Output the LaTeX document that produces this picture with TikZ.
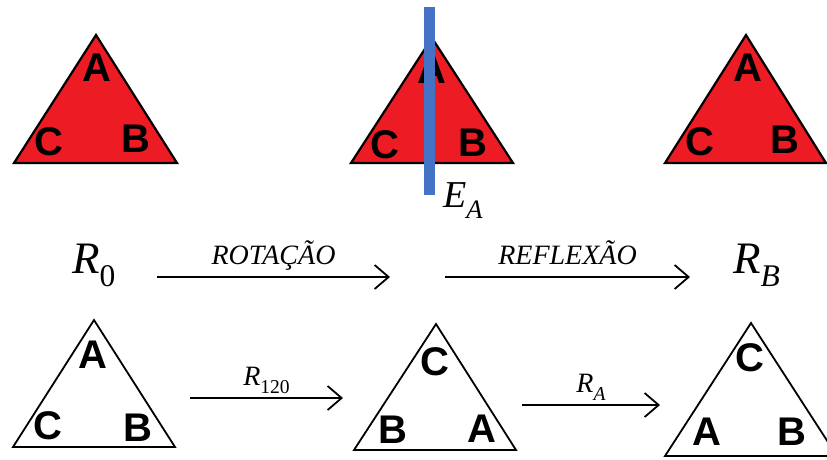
\documentclass[tikz,border=0pt]{standalone}
\usepackage{graphicx}
\usepackage{fontspec}
\setmainfont{Liberation Serif}
\newfontfamily\vtxfont{Liberation Sans}
\usetikzlibrary{arrows.meta}

\definecolor{trired}{RGB}{237,28,36}
\definecolor{axisblue}{RGB}{68,114,196}

% italic symbol with a lowered index
\newcommand{\symb}[2]{\textit{#1}\raisebox{-0.3em}{\scalebox{0.7}{#2}}}

\tikzset{
    redtri/.style={fill=trired, draw=black, line width=2.2pt},
    whitetri/.style={fill=white, draw=black, line width=1.8pt},
    vtx/.style={font=\vtxfont\bfseries\fontsize{40}{40}\selectfont, inner sep=0pt},
    mapto/.style={line width=1.6pt, -{Straight Barb[length=14pt, width=24pt, line width=1.8pt]}},
    maplabel/.style={font=\itshape\fontsize{28}{28}\selectfont, inner sep=0pt, anchor=base, yshift=12.5pt},
    biglabel/.style={font=\fontsize{45}{45}\selectfont, inner sep=0pt, anchor=base west},
}

\begin{document}
\begin{tikzpicture}[x=1pt, y=-1pt]
    \clip (0,0) rectangle (827,459);
    \fill[white] (0,0) rectangle (827,459);

    % top row: red triangles
    \filldraw[redtri] (96,35) -- (177,163) -- (14,163) -- cycle;
    \node[vtx] (t1a) at (97,68) {A};
    \node[vtx] (t1c) at (49,142) {C};
    \node[vtx] (t1b) at (136,139) {B};

    \filldraw[redtri] (432,38) -- (513,163) -- (351,163) -- cycle;
    \node[vtx] (t2a) at (432,70) {A};
    \node[vtx] (t2c) at (385,145) {C};
    \node[vtx] (t2b) at (473,143) {B};

    \filldraw[redtri] (746,35) -- (826,163) -- (665,163) -- cycle;
    \node[vtx] (t3a) at (748,68) {A};
    \node[vtx] (t3c) at (700,142) {C};
    \node[vtx] (t3b) at (785,140) {B};

    % mirror axis through A
    \fill[axisblue] (424,7) rectangle (435,195);
    \node[biglabel, font=\fontsize{38}{38}\selectfont] (ea) at (443,207) {\symb{E}{\textit{A}}};

    % middle row
    \node[biglabel] (r0) at (72,273) {\symb{R}{0}};
    \node[biglabel] (rb) at (733,273) {\symb{R}{\textit{B}}};
    \coordinate (rot-s) at (157,277);
    \coordinate (rot-e) at (390,277);
    \coordinate (ref-s) at (445,277);
    \coordinate (ref-e) at (690,277);
    \draw[mapto] (rot-s) -- node[midway, maplabel] (rot) {ROTAÇÃO} (rot-e);
    \draw[mapto] (ref-s) -- node[midway, maplabel] (ref) {REFLEXÃO} (ref-e);

    % bottom row: white triangles
    \filldraw[whitetri] (94,320) -- (175,447) -- (13,447) -- cycle;
    \node[vtx] (b1a) at (93,355) {A};
    \node[vtx] (b1c) at (48,426) {C};
    \node[vtx] (b1b) at (138,428) {B};

    \filldraw[whitetri] (436,324) -- (516,450) -- (354,450) -- cycle;
    \node[vtx] (b2c) at (435,362) {C};
    \node[vtx] (b2b) at (393,430) {B};
    \node[vtx] (b2a) at (482,429) {A};

    \filldraw[whitetri] (751,323) -- (837,456) -- (665,456) -- cycle;
    \node[vtx] (b3c) at (750,358) {C};
    \node[vtx] (b3a) at (707,432) {A};
    \node[vtx] (b3b) at (792,432) {B};

    \coordinate (r120-s) at (190,398);
    \coordinate (r120-e) at (343,398);
    \coordinate (ra-s) at (522,405);
    \coordinate (ra-e) at (660,405);
    \draw[mapto] (r120-s) -- node[midway, maplabel] (r120) {\symb{R}{\upshape 120}} (r120-e);
    \draw[mapto] (ra-s) -- node[midway, maplabel] (ra) {\symb{R}{A}} (ra-e);
\end{tikzpicture}
\end{document}
